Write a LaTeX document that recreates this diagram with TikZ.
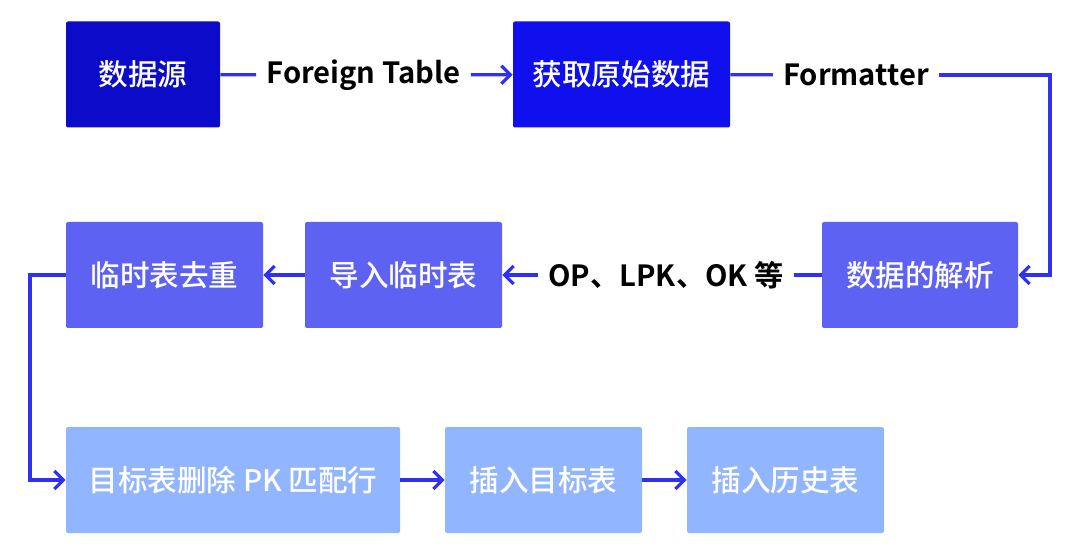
\documentclass[tikz,border=0pt]{standalone}
\usepackage{fontspec}
\setmainfont{Noto Sans CJK SC}[BoldFont={Noto Sans CJK SC Medium}]
\newfontfamily\heavyfont{Noto Sans CJK SC Bold}
\usetikzlibrary{arrows.meta,positioning}

\definecolor{srcblue}{HTML}{0B0BC9}
\definecolor{fetchblue}{HTML}{1010EE}
\definecolor{midblue}{HTML}{5E62F3}
\definecolor{lightblue}{HTML}{91B5FE}
\definecolor{lineblue}{HTML}{3030F2}

\begin{document}
\begin{tikzpicture}[x=0.5pt,y=-0.5pt,
    stepbox/.style={rectangle,rounded corners=1pt,minimum height=53pt,
                    text=white,font=\fontsize{14.8pt}{17pt}\selectfont\bfseries},
    lbl/.style={inner sep=5pt,font=\fontsize{14.6pt}{17pt}\selectfont\heavyfont},
    flow/.style={draw=lineblue,line width=1.6pt},
    >={Straight Barb[length=4.5pt,width=9pt,line width=1.6pt]}]

  \useasboundingbox (0,0) rectangle (1080,555);

  % row 1
  \node[stepbox,fill=srcblue,minimum width=77pt]     (src)   at (143,74.5)   {数据源};
  \node[stepbox,fill=fetchblue,minimum width=108.5pt] (fetch) at (621.5,74.5) {获取原始数据};
  \node[lbl] (ft)  at (363.5,75) {Foreign Table};
  \node[lbl] (fmt) at (856,75)   {Formatter};

  % row 2
  \node[stepbox,fill=midblue,minimum width=98pt]   (parse) at (920,275)   {数据的解析};
  \node[stepbox,fill=midblue,minimum width=98.5pt] (load)  at (403.5,275) {导入临时表};
  \node[stepbox,fill=midblue,minimum width=98.5pt] (dedup) at (164.5,275) {临时表去重};
  \node[lbl] (ops) at (666,275) {OP、LPK、OK 等};

  % row 3
  \node[stepbox,fill=lightblue,minimum width=167pt]  (del)  at (233,480)   {目标表删除 PK 匹配行};
  \node[stepbox,fill=lightblue,minimum width=98.5pt] (ins)  at (543.5,480) {插入目标表};
  \node[stepbox,fill=lightblue,minimum width=98.5pt] (hist) at (785.5,480) {插入历史表};

  \coordinate (turn) at (1050,275);
  \coordinate (bend) at (30,275);

  \draw[flow] (src) -- (ft);
  \draw[flow,->] (ft) -- (fetch);
  \draw[flow] (fetch) -- (fmt);
  \draw[flow,->] (fmt) -| (turn) -- (parse);
  \draw[flow] (parse) -- (ops);
  \draw[flow,->] (ops) -- (load);
  \draw[flow,->] (load) -- (dedup);
  \draw[flow,->] (dedup) -- (bend) |- (del);
  \draw[flow,->] (del) -- (ins);
  \draw[flow,->] (ins) -- (hist);
\end{tikzpicture}
\end{document}
